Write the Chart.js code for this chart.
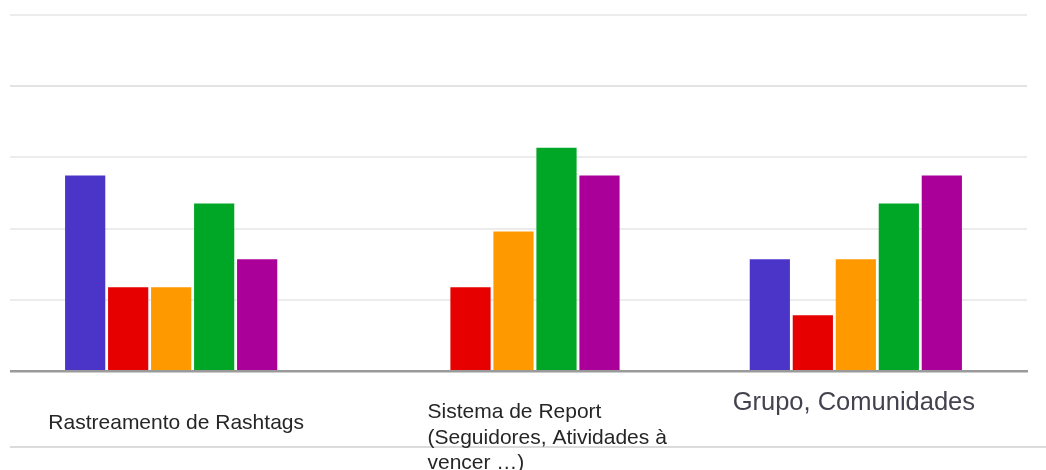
<!DOCTYPE html>
<html>
<head>
<meta charset="utf-8">
<script src="https://cdn.jsdelivr.net/npm/chart.js@4/dist/chart.umd.min.js"></script>
<style>
  body { margin: 0; background: #fff; }
  #wrap { width: 1046px; height: 470px; position: relative; }
</style>
</head>
<body>
<div id="wrap"><canvas id="funcChart"></canvas></div>
<script>
// categorias e valores
var categorias = ['Rastreamento de Rashtags', ['Sistema de Report', '(Seguidores, Atividades à', 'vencer …)'], 'Grupo, Comunidades'];
var serie1 = [7, 0, 4];
var serie2 = [3, 3, 2];
var serie3 = [3, 5, 4];
var serie4 = [6, 8, 6];
var serie5 = [4, 7, 7];
var yMax = 12.75;
var yTicks = [0, 2.55, 5.1, 7.65, 10.2, 12.75];

var cores = ['#4b35c9', '#e60000', '#ff9900', '#00a626', '#aa0099'];

// desenha os rotulos das categorias e a linha fina de baixo
var rotulosPlugin = {
    id: 'rotulos',
    afterDraw: function(chart) {
        var ctx = chart.ctx;
        var x = chart.scales.x;
        ctx.save();
        // tapa o inicio das linhas de grade
        ctx.fillStyle = '#fff';
        ctx.fillRect(0, 0, 10, 380);

        ctx.strokeStyle = '#cfcfcf';
        ctx.lineWidth = 1.5;
        ctx.beginPath();
        ctx.moveTo(10, 447);
        ctx.lineTo(1046, 447);
        ctx.stroke();

        var c0 = x.getPixelForValue(0);
        var c1 = x.getPixelForValue(1);
        var c2 = x.getPixelForValue(2);

        ctx.textBaseline = 'alphabetic';
        ctx.fillStyle = '#262626';
        ctx.font = '21px "Liberation Sans", Arial, sans-serif';
        ctx.textAlign = 'center';
        ctx.fillText(categorias[0], c0 + 5, 429);

        ctx.textAlign = 'left';
        categorias[1].forEach(function(linha, i) {
            ctx.fillText(linha, c1 - 86, 418 + i * 25.5);
        });

        ctx.fillStyle = '#44424f';
        ctx.font = '25.5px "Liberation Sans", Arial, sans-serif';
        ctx.textAlign = 'center';
        ctx.fillText(categorias[2], c2 - 2, 410);
        ctx.restore();
    }
};

var ctx = document.getElementById('funcChart').getContext('2d');
var funcChart = new Chart(ctx, {
    type: 'bar',
    data: {
        labels: categorias,
        datasets: [serie1, serie2, serie3, serie4, serie5].map(function(d, i) {
            return {
                label: 'Série ' + (i + 1),
                data: d,
                backgroundColor: cores[i],
                borderWidth: 0
            };
        })
    },
    options: {
        responsive: true,
        maintainAspectRatio: false,
        animation: false,
        categoryPercentage: 0.628,
        barPercentage: 0.935,
        layout: { padding: { left: 0, right: 19, top: 15, bottom: 99 } },
        plugins: {
            legend: { display: false },
            tooltip: { enabled: false }
        },
        scales: {
            x: {
                ticks: { display: false },
                grid: { display: false, drawTicks: false },
                border: { display: true, color: '#9a9a9a', width: 2.5 }
            },
            y: {
                min: 0,
                max: yMax,
                afterBuildTicks: function(axis) {
                    axis.ticks = yTicks.map(function(v) { return { value: v }; });
                },
                ticks: { display: false },
                grid: {
                    drawTicks: false,
                    lineWidth: 2,
                    color: function(c) {
                        if (c.tick && c.tick.value === 0) return 'rgba(0,0,0,0)';
                        return c.tick && c.tick.value === 10.2 ? '#e3e3e3' : '#ececec';
                    }
                },
                border: { display: false }
            }
        }
    },
    plugins: [rotulosPlugin]
});
</script>
</body>
</html>
